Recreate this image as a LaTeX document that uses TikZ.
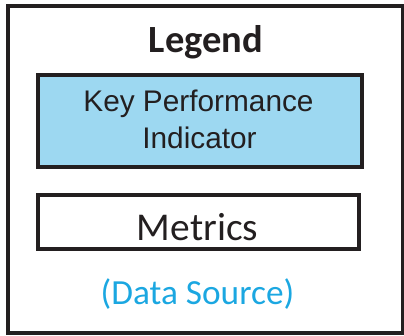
\documentclass[tikz,border=0pt]{standalone}
\usepackage{fontspec}
\newfontfamily\carlito{Carlito}
\newfontfamily\libsans{Liberation Sans}
\definecolor{frameline}{RGB}{35,31,32}
\definecolor{kpiblue}{RGB}{157,216,241}
\definecolor{srcblue}{RGB}{27,167,225}
\tikzset{
  legendbox/.style={draw=frameline, line width=4pt, rectangle, inner sep=0pt, outer sep=0pt},
  lbl/.style={anchor=base, inner sep=0pt, outer sep=0pt, text=frameline}
}
\begin{document}
\begin{tikzpicture}[x=1pt,y=-1pt]
\useasboundingbox (0,0) rectangle (404,335);
\node[legendbox, minimum width=394.5pt, minimum height=327pt] (frame) at (205.25,169.5) {};
\node[lbl, font=\carlito\bfseries\fontsize{38.5}{42}\selectfont] (title) at (206,52) {Legend};
\node[legendbox, fill=kpiblue, minimum width=323.5pt, minimum height=92.5pt] (kpi) at (199.75,120.75) {};
\node[lbl, font=\libsans\fontsize{29.8}{34}\selectfont] (kpi1) at (198.5,111.7) {Key Performance};
\node[lbl, font=\libsans\fontsize{29.8}{34}\selectfont] (kpi2) at (199.5,148) {Indicator};
\node[legendbox, minimum width=320.7pt, minimum height=54.5pt] (metrics) at (198.35,221.75) {};
\node[lbl, font=\carlito\fontsize{39.4}{42}\selectfont] (mtxt) at (197.5,240) {Metrics};
\node[lbl, text=srcblue, font=\carlito\fontsize{35.3}{40}\selectfont] (src) at (197.5,304) {(Data Source)};
\end{tikzpicture}
\end{document}
